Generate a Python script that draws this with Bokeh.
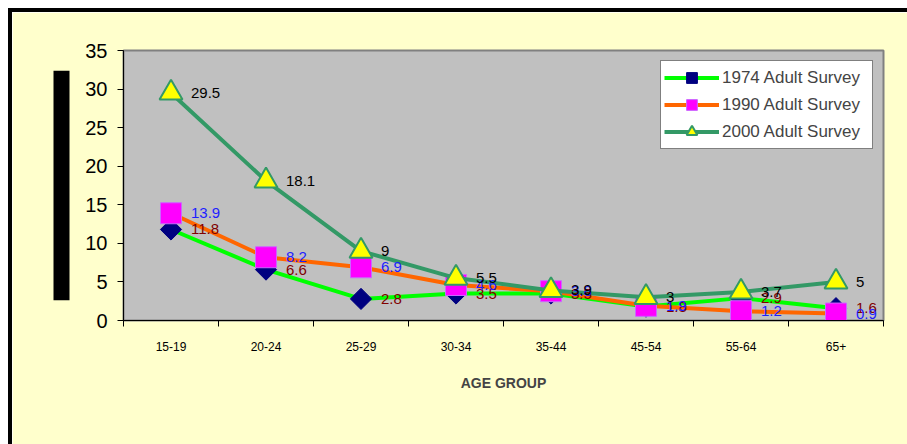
from bokeh.plotting import figure
from bokeh.layouts import column, row
from bokeh.models import (ColumnDataSource, Range1d, FixedTicker, LinearAxis,
                          Legend, LegendItem, Title, Spacer)
from bokeh.core.properties import value
from bokeh.embed import file_html
from bokeh.resources import INLINE
import math

# Survey results by age group
age_groups = ["15-19", "20-24", "25-29", "30-34", "35-44", "45-54", "55-64", "65+"]
survey_1974 = [11.8, 6.6, 2.8, 3.5, 3.5, 1.8, 2.9, 1.6]
survey_1990 = [13.9, 8.2, 6.9, 4.6, 3.8, 1.9, 1.2, 0.9]
survey_2000 = [29.5, 18.1, 9.0, 5.5, 3.9, 3.0, 3.7, 5.0]
y_ticks = [0, 5, 10, 15, 20, 25, 30, 35]
series_names = ["1974 Adult Survey", "1990 Adult Survey", "2000 Adult Survey"]

FONT = "Liberation Sans"

# category centres sit at half-integers, category boundaries at integers
centers = [i + 0.5 for i in range(len(age_groups))]
bounds = list(range(len(age_groups) + 1))

p = figure(width=895, height=432, x_range=Range1d(0, len(age_groups)),
           y_range=Range1d(0, 35), x_axis_type=None, y_axis_type=None,
           toolbar_location=None, output_backend="svg",
           min_border_left=111, min_border_right=24,
           min_border_top=38, min_border_bottom=124)
p.background_fill_color = "#C0C0C0"
p.border_fill_color = "#FFFFCC"
p.outline_line_color = "#808080"
p.outline_line_width = 2

# axes
yaxis = LinearAxis(ticker=FixedTicker(ticks=y_ticks, minor_ticks=[]))
yaxis.major_label_text_font = FONT
yaxis.major_label_text_font_size = "20px"
yaxis.major_label_text_color = "black"
yaxis.major_tick_out = 6
yaxis.major_tick_in = 0
yaxis.major_label_standoff = 10
yaxis.axis_line_color = "black"
p.add_layout(yaxis, "left")

# value-axis title: a solid black block
ytitle = Title(text=" " * 59, text_font_size="14px", text_color="black",
               background_fill_color="black", background_fill_alpha=1,
               align="center", standoff=26)
p.add_layout(ytitle, "left")

xaxis = LinearAxis(ticker=FixedTicker(ticks=centers, minor_ticks=bounds),
                   major_label_overrides={c: g for c, g in zip(centers, age_groups)})
xaxis.major_tick_line_color = None
xaxis.major_tick_out = 0
xaxis.minor_tick_out = 6
xaxis.minor_tick_in = 0
xaxis.minor_tick_line_color = "black"
xaxis.major_label_text_font = FONT
xaxis.major_label_text_font_size = "12px"
xaxis.major_label_text_color = "black"
xaxis.major_label_standoff = 15
xaxis.axis_line_color = "black"
xaxis.axis_label = "AGE GROUP"
xaxis.axis_label_text_font = FONT
xaxis.axis_label_text_font_size = "14px"
xaxis.axis_label_text_font_style = "bold"
xaxis.axis_label_standoff = 21
p.add_layout(xaxis, "below")

styles = [
    dict(vals=survey_1974, line="#00FF00", marker="square", size=15, angle=math.pi / 4,
         fill="#000080", edge="#000080", edge_w=1, label_color="#800000"),
    dict(vals=survey_1990, line="#FF6600", marker="square", size=21, angle=0,
         fill="#FF00FF", edge="#CC66FF", edge_w=1, label_color="#1E1EFF"),
    dict(vals=survey_2000, line="#339966", marker="triangle", size=23, angle=0,
         fill="#FFFF00", edge="#339966", edge_w=2, label_color="black"),
]

items = []
label_sources = []
for name, st in zip(series_names, styles):
    src = ColumnDataSource(dict(x=centers, y=st["vals"],
                                txt=[f"{v:g}" for v in st["vals"]]))
    lr = p.line("x", "y", source=src, line_color=st["line"], line_width=4)
    sr = p.scatter("x", "y", source=src, marker=st["marker"], size=st["size"],
                   angle=st["angle"], fill_color=st["fill"],
                   line_color=st["edge"], line_width=st["edge_w"])
    items.append(LegendItem(label=name, renderers=[lr, sr]))
    label_sources.append((src, st["label_color"]))

# value labels drawn on top of every series
for src, color in label_sources:
    p.text("x", "y", text="txt", source=src, x_offset=20,
           text_baseline="middle", text_align="left",
           text_font=value(FONT), text_font_size="15px", text_color=color)

# legend box anchored by its lower-left corner, in pixels from the frame origin
legend = Legend(items=items, location=(537, 171))
legend.background_fill_color = "white"
legend.background_fill_alpha = 1
legend.border_line_color = "black"
legend.border_line_width = 1
legend.label_text_font = FONT
legend.label_text_font_size = "17px"
legend.glyph_width = 55
legend.glyph_height = 27
legend.label_height = 27
legend.label_width = 147
legend.label_standoff = 3
legend.spacing = 0
legend.padding = 3
legend.margin = 0
p.add_layout(legend)

# white page margin, then a black frame along the top and left of the chart
frame_top = Spacer(width=899, height=4, styles={"background-color": "black"})
frame_left = Spacer(width=4, height=432, styles={"background-color": "black"})
chart = column(frame_top, row(frame_left, p))
page = column(Spacer(width=907, height=8), row(Spacer(width=8, height=436), chart))

open("out.html", "w").write(file_html(page, INLINE))
